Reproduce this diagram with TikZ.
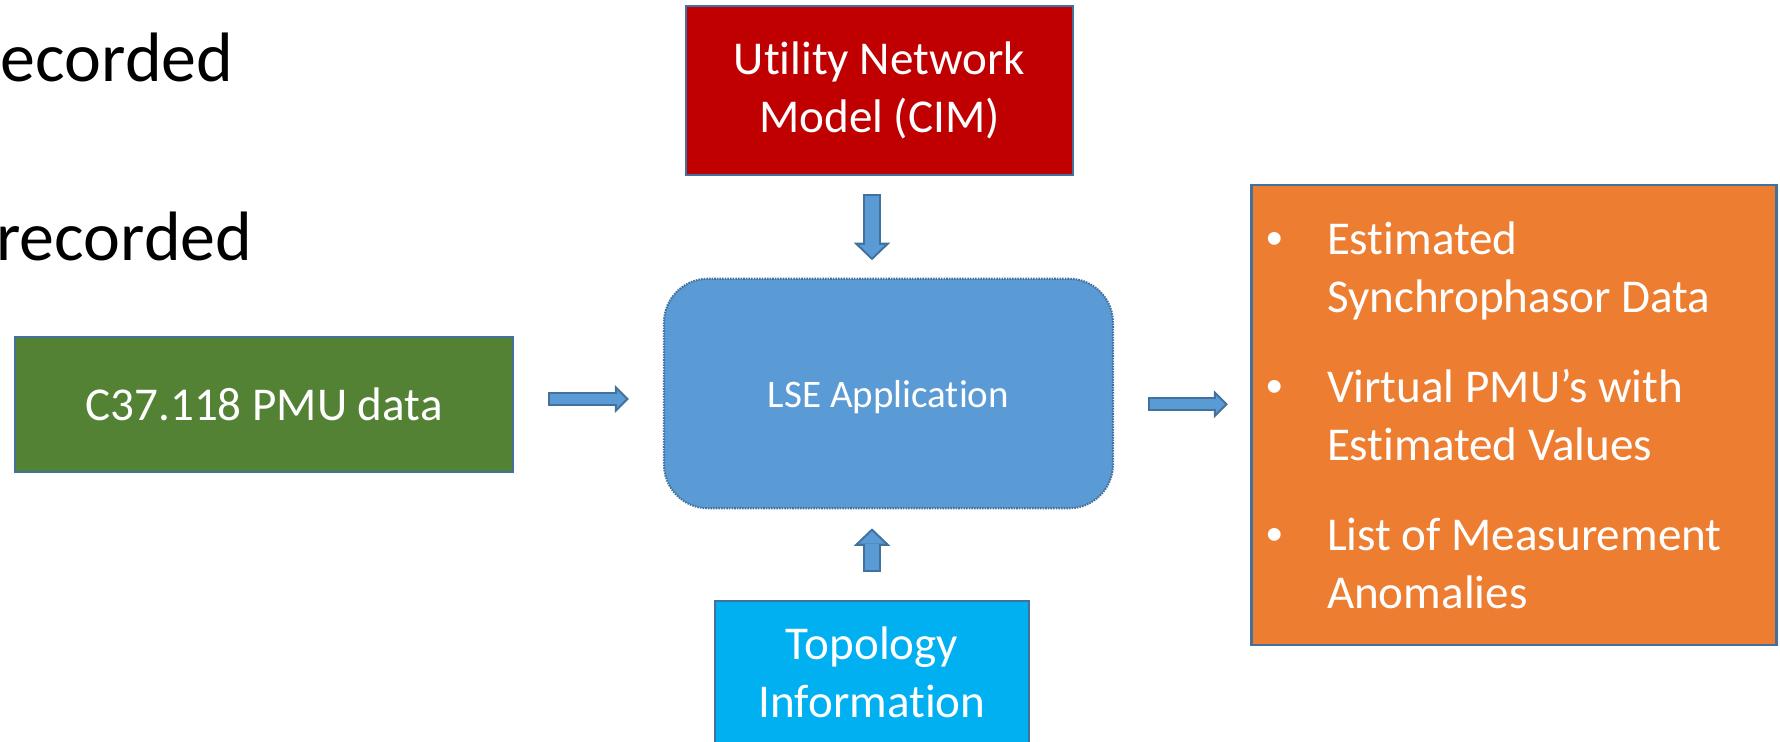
\documentclass[tikz,border=0pt]{standalone}
\usepackage{fontspec}
\setmainfont{Carlito}[Ligatures=NoCommon]
\newfontfamily\bulletfont{Liberation Sans}
\usetikzlibrary{arrows.meta,calc}
\definecolor{cimred}{HTML}{C00000}
\definecolor{pmugreen}{HTML}{548235}
\definecolor{lseblue}{HTML}{5B9BD5}
\definecolor{outorange}{HTML}{ED7D31}
\definecolor{topoblue}{HTML}{00B0F0}
\definecolor{edgeblue}{HTML}{41719C}
\newcommand\midsize{\fontsize{13.4pt}{16.5pt}\selectfont}
\newcommand\outbullet{\makebox[0.61cm][l]{\bulletfont\textbullet}}
\newcommand\outindent{\hspace*{0.61cm}}
\begin{document}
\begin{tikzpicture}[
    box/.style={draw=edgeblue, line width=0.6pt, inner sep=0pt, text=white, align=center, font=\midsize},
    harrow/.style={draw=lseblue, line width=0.098cm, shorten <=0.021cm, shorten >=0.03cm,
        -{Triangle[length=0.089cm, width=0.178cm, line width=0pt]},
        preaction={draw=edgeblue, line width=0.14cm, shorten <=0cm, shorten >=0cm,
        -{Triangle[length=0.14cm, width=0.28cm, line width=0pt]}}},
    varrow/.style={draw=lseblue, line width=0.133cm, shorten <=0.021cm, shorten >=0.029cm,
        -{Triangle[length=0.125cm, width=0.26cm, line width=0pt]},
        preaction={draw=edgeblue, line width=0.175cm, shorten <=0cm, shorten >=0cm,
        -{Triangle[length=0.175cm, width=0.365cm, line width=0pt]}}}]
    \useasboundingbox (0,0) rectangle (17.8,-7.41);
    \node[anchor=base east, inner sep=0pt, font=\fontsize{19.9pt}{24pt}\selectfont] (rec1) at (2.34,-0.81) {ecorded};
    \node[anchor=base east, inner sep=0pt, font=\fontsize{19.9pt}{24pt}\selectfont] (rec2) at (2.53,-2.60) {recorded};
    \node[box, fill=cimred, minimum width=3.87cm, minimum height=1.69cm] (model) at (8.795,-0.905) {\spaceskip=0pt Utility Network\\Model (CIM)};
    \node[box, fill=pmugreen, minimum width=4.98cm, minimum height=1.35cm] (pmu) at (2.64,-4.045) {C37.118 PMU data};
    \node[box, fill=lseblue, rounded corners=0.44cm, dash pattern=on 0.45pt off 0.3pt, minimum width=4.49cm, minimum height=2.295cm,
        font=\fontsize{11.1pt}{13.5pt}\selectfont, text depth=0pt] (lse) at (8.885,-3.935) {LSE Application};
    \node[box, fill=topoblue, minimum width=3.14cm, minimum height=1.42cm] (topo) at (8.72,-6.72) {Topology\\Information};
    \node[box, fill=outorange, minimum width=5.25cm, minimum height=4.6cm, text width=4.96cm, align=left] (out) at (15.14,-4.15) {%
        \spaceskip=0pt\xspaceskip=0pt
        \outbullet Estimated\\
        \outindent Synchrophasor Data\\[0.32cm]
        \outbullet Virtual PMU’s with\\
        \outindent Estimated Values\\[0.32cm]
        \outbullet List of Measurement\\
        \outindent Anomalies};
    \coordinate (m1) at ($(pmu.east)!.5!(lse.west)$);
    \coordinate (m2) at ($(lse.east)!.5!(out.west)$);
    \draw[harrow] ($(pmu.east |- m1)+(0.34,0)$) -- ($(lse.west |- m1)+(-0.34,0)$);
    \draw[harrow] ($(lse.east |- m2)+(0.34,0)$) -- ($(out.west |- m2)+(-0.225,0)$);
    \draw[varrow] ($(model.south -| topo.north)+(0,-0.18)$) -- ($(lse.north -| topo.north)+(0,0.175)$);
    \draw[varrow] ($(topo.north)+(0,0.28)$) -- ($(lse.south -| topo.north)+(0,-0.19)$);
\end{tikzpicture}
\end{document}
